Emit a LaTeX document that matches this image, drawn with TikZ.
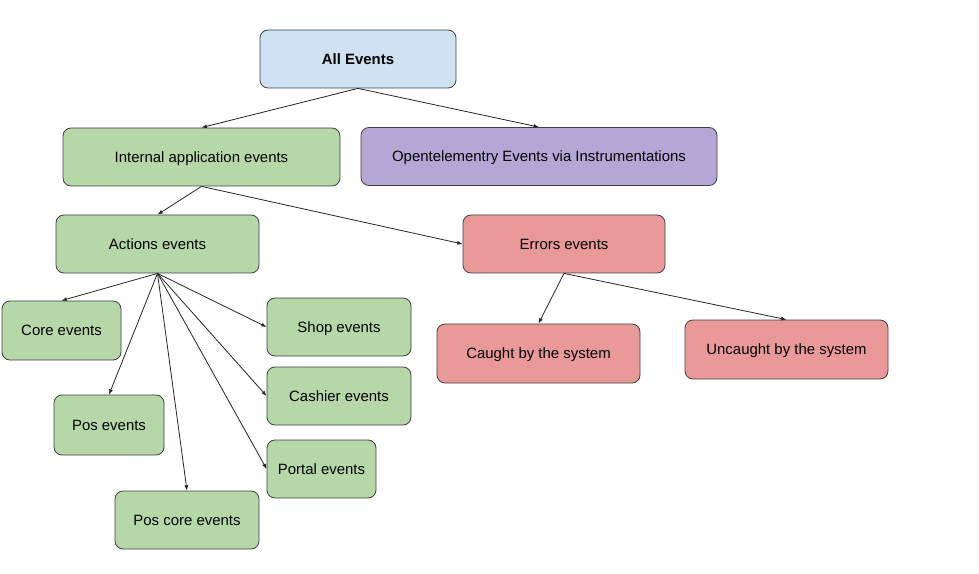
\documentclass[tikz,border=0pt]{standalone}
\usepackage{fontspec}
\setmainfont{Liberation Sans}
\usetikzlibrary{arrows.meta}
\definecolor{allblue}{HTML}{CFE2F3}
\definecolor{appgreen}{HTML}{B6D7A8}
\definecolor{otelpurple}{HTML}{B4A7D6}
\definecolor{errred}{HTML}{EA9999}
\tikzset{%
  >={Latex[length=4pt,width=3pt]}, % small filled tips
  event box/.style={draw=black!75,line width=0.6pt,rounded corners=6pt,
    minimum height=43.5pt,inner sep=2pt,align=center,text depth=0pt,
    font=\fontsize{11.2}{13}\selectfont},%
  link/.style={->,line width=0.6pt,draw=black!85}%
}
\begin{document}
\begin{tikzpicture}[x=0.75pt,y=-0.75pt]
\useasboundingbox (0,0) rectangle (979,574);

%top level
\node[event box,fill=allblue,minimum width=147pt] (all) at (358,59) {\textbf{All Events}};
\node[event box,fill=appgreen,minimum width=207.75pt] (internal) at (201.5,157) {Internal application events};
\node[event box,fill=otelpurple,minimum width=267pt] (otel) at (539,156.5) {Opentelementry Events via Instrumentations};

%second level
\node[event box,fill=appgreen,minimum width=152.25pt] (actions) at (157.5,244) {Actions events};
\node[event box,fill=errred,minimum width=151.5pt] (errors) at (564,244) {Errors events};

%actions children
\node[event box,fill=appgreen,minimum width=89.25pt,minimum height=44.25pt] (core) at (61.5,330.5) {Core events};
\node[event box,fill=appgreen,minimum width=108pt] (shop) at (339,327) {Shop events};
\node[event box,fill=appgreen,minimum width=108pt] (cashier) at (339,396) {Cashier events};
\node[event box,fill=appgreen,minimum width=81.75pt] (portal) at (321.5,469) {Portal events};
\node[event box,fill=appgreen,minimum width=82.5pt,minimum height=45pt] (pos) at (109,425) {Pos events};
\node[event box,fill=appgreen,minimum width=108pt] (poscore) at (187,520) {Pos core events};

%errors children
\node[event box,fill=errred,minimum width=152.25pt,minimum height=44.25pt] (caught) at (538.5,353.5) {Caught by the system};
\node[event box,fill=errred,minimum width=152.25pt,minimum height=44.25pt] (uncaught) at (786.5,349.5) {Uncaught by the system};

%links
\draw[link] (all.south) -- (internal.north);
\draw[link] (all.south) -- (otel.north);
\draw[link] (internal.south) -- (actions.north);
\draw[link] (internal.south) -- (errors.west);
\draw[link] (actions.south) -- (core.north);
\draw[link] (actions.south) -- (shop.west);
\draw[link] (actions.south) -- (cashier.west);
\draw[link] (actions.south) -- (portal.west);
\draw[link] (actions.south) -- (pos.north);
\draw[link] (actions.south) -- (poscore.north);
\draw[link] (errors.south) -- (caught.north);
\draw[link] (errors.south) -- (uncaught.north);

\end{tikzpicture}
\end{document}
